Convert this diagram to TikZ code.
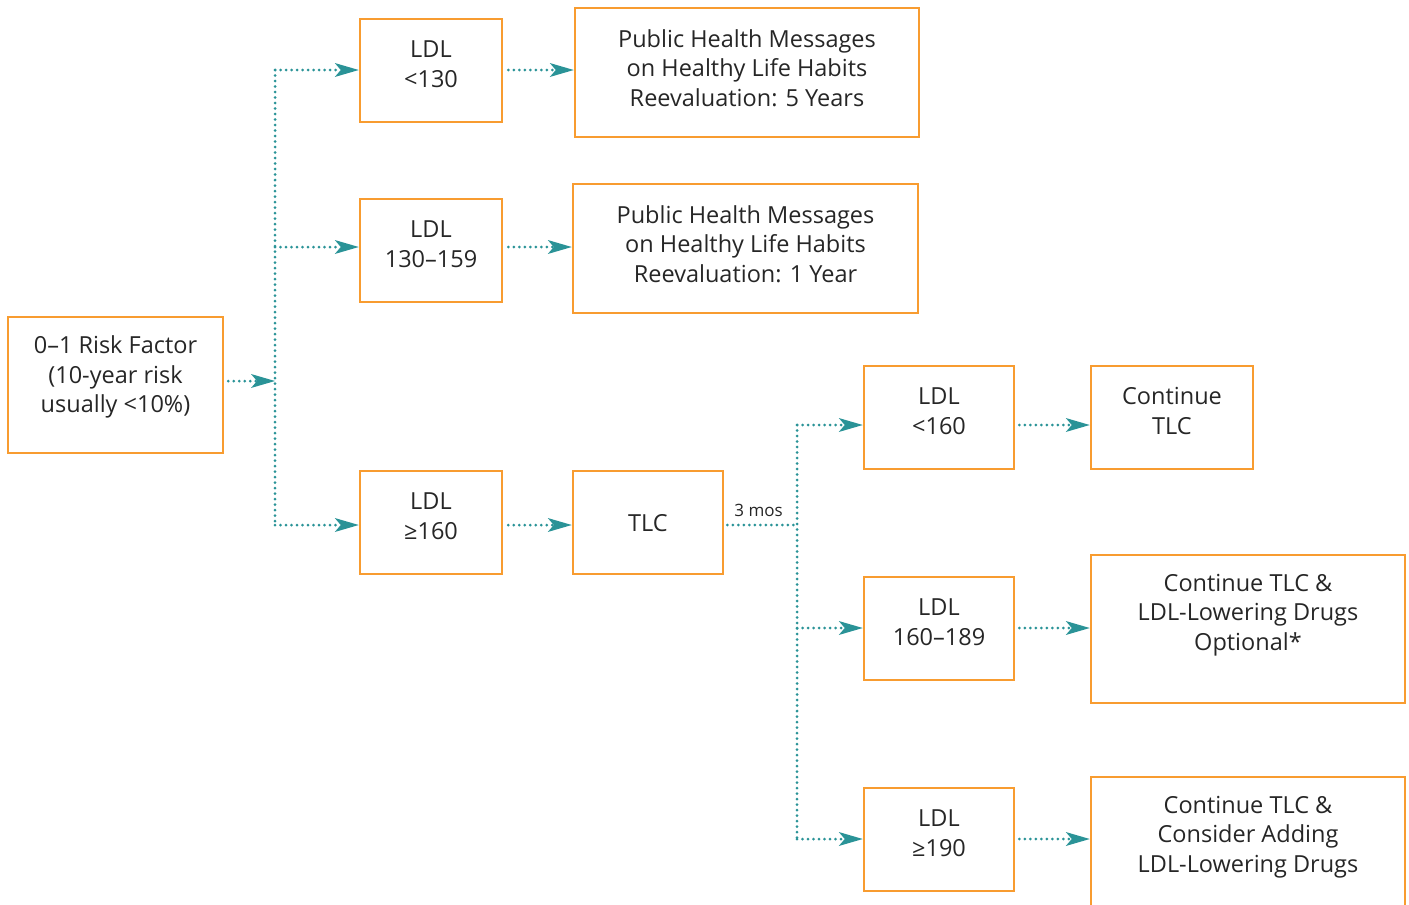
\documentclass[tikz,border=0pt]{standalone}
\usepackage{fontspec}
\setmainfont{Open Sans}
\usetikzlibrary{arrows.meta}
\definecolor{boxor}{HTML}{F89C30}
\definecolor{teal}{HTML}{2A9397}
\definecolor{ink}{HTML}{262626}
\tikzset{
  box/.style={draw=boxor, line width=2.5pt, inner sep=0pt},
  txt/.style={align=center, text=ink, font=\fontsize{23.5}{29.5}\selectfont, inner sep=0pt},
  conn/.style={teal, line width=3pt, line cap=round, dash pattern=on 0pt off 5.5pt},
  arr/.style={conn, -{Stealth[length=24pt, width=14pt, inset=6pt, line width=0pt, fill=teal]}},
}
\begin{document}
\begin{tikzpicture}[x=1pt, y=-1pt]
\useasboundingbox (0,0) rectangle (1409,905);
\clip (0,0) rectangle (1409,905);
% boxes
\node[box, minimum width=215pt, minimum height=136pt] (risk) at (115.5,385) {};
\node[box, minimum width=142pt, minimum height=103pt] (l1) at (431,70.5) {};
\node[box, minimum width=344pt, minimum height=129pt] (p1) at (747,72.5) {};
\node[box, minimum width=142pt, minimum height=103pt] (l2) at (431,250.5) {};
\node[box, minimum width=345pt, minimum height=129pt] (p2) at (745.5,248.5) {};
\node[box, minimum width=142pt, minimum height=103pt] (l3) at (431,522.5) {};
\node[box, minimum width=150pt, minimum height=103pt] (tlc) at (648,522.5) {};
\node[box, minimum width=150pt, minimum height=103pt] (m1) at (939,417.5) {};
\node[box, minimum width=162pt, minimum height=103pt] (c1) at (1172,417.5) {};
\node[box, minimum width=150pt, minimum height=103pt] (m2) at (939,628.5) {};
\node[box, minimum width=314pt, minimum height=148pt] (c2) at (1248,629) {};
\node[box, minimum width=150pt, minimum height=103pt] (m3) at (939,839.5) {};
\node[box, minimum width=314pt, minimum height=150pt] (c3) at (1248,852) {};
% texts
\node[txt] at (115.5,377) {0–1 Risk Factor\\(10-year risk\\usually <10\%)};
\node[txt] at (431,64) {LDL\\<130};
\node[txt] at (747,68) {Public Health Messages\\on Healthy Life Habits\\Reevaluation: 5 Years};
\node[txt] at (431,244) {LDL\\130–159};
\node[txt] at (745.5,244) {Public Health Messages\\on Healthy Life Habits\\Reevaluation: 1 Year};
\node[txt] at (431,516) {LDL\\≥160};
\node[txt] at (648,523) {TLC};
\node[txt] at (939,411) {LDL\\<160};
\node[txt] at (1172,411) {Continue\\TLC};
\node[txt] at (939,622) {LDL\\160–189};
\node[txt] at (1248,615) {Continue TLC \&\\LDL-Lowering Drugs\\Optional*};
\node[txt] at (939,833) {LDL\\≥190};
\node[txt] at (1248,837) {Continue TLC \&\\Consider Adding\\LDL-Lowering Drugs};
% trunk coordinates
\coordinate (ta) at (275,70);
\coordinate (tb) at (275,247);
\coordinate (tm) at (275,381);
\coordinate (tc) at (275,525);
\coordinate (ua) at (797,425);
\coordinate (ub) at (797,628);
\coordinate (um) at (797,525);
\coordinate (uc) at (797,839);
% connectors
\draw[arr] (risk.east |- tm) ++(4,0) -- (tm);
\draw[conn] (ta) -- (tc);
\draw[arr] (ta) -- (ta -| l1.west);
\draw[arr] (tb) -- (tb -| l2.west);
\draw[arr] (tc) -- (tc -| l3.west);
\draw[arr] (l1.east |- ta) ++(5,0) -- (ta -| p1.west);
\draw[arr] (l2.east |- tb) ++(5,0) -- (tb -| p2.west);
\draw[arr] (l3.east |- tc) ++(5,0) -- (tc -| tlc.west);
\draw[conn] (tlc.east |- um) ++(3,0) -- (um)
  node[pos=0.45, above=7pt, text=ink, font=\fontsize{17}{19}\selectfont, inner sep=0pt] {3 mos};
\draw[conn] (ua) -- (uc);
\draw[arr] (ua) -- (ua -| m1.west);
\draw[arr] (ub) -- (ub -| m2.west);
\draw[arr] (uc) -- (uc -| m3.west);
\draw[arr] (m1.east |- ua) ++(4,0) -- (ua -| c1.west);
\draw[arr] (m2.east |- ub) ++(4,0) -- (ub -| c2.west);
\draw[arr] (m3.east |- uc) ++(4,0) -- (uc -| c3.west);
\end{tikzpicture}
\end{document}
